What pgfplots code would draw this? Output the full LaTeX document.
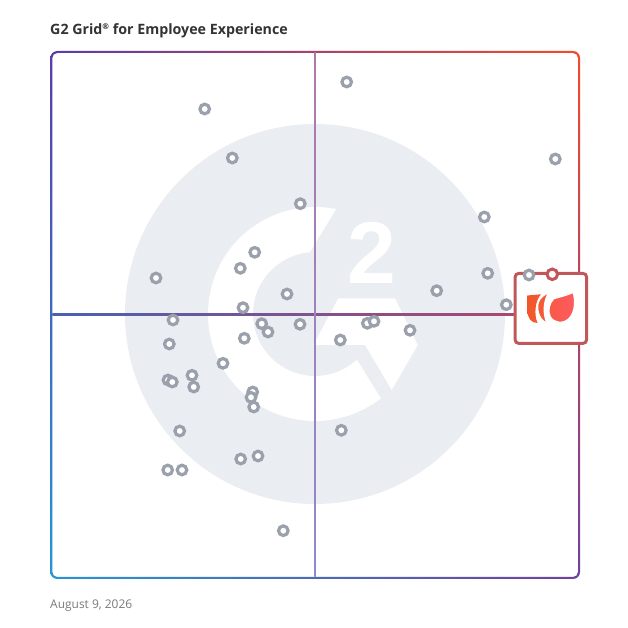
\documentclass[border=0pt]{standalone}
\usepackage{pgfplots}
\pgfplotsset{compat=1.18}
\usetikzlibrary{shadings}
\usepackage{fontspec}
\setmainfont{Open Sans}
\newfontfamily\twofont{Liberation Sans}
\definecolor{ringgray}{HTML}{9AA0AC}
\definecolor{logogray}{HTML}{EAEDF1}
\definecolor{boxred}{HTML}{C0585A}
\definecolor{titlegray}{HTML}{333333}
\definecolor{dategray}{HTML}{7A7A7A}
\definecolor{bUL}{HTML}{5A3CA8}
\definecolor{bUR}{HTML}{F54A2A}
\definecolor{bLL}{HTML}{2596D4}
\definecolor{bLR}{HTML}{7040A0}
\definecolor{hL}{HTML}{4A60B2}
\definecolor{hR}{HTML}{B84468}
\definecolor{vT}{HTML}{B07AA8}
\definecolor{vB}{HTML}{8C8ACE}
\definecolor{pA}{HTML}{F0572A}
\definecolor{pA2}{HTML}{F35A30}
\definecolor{pB}{HTML}{F45A34}
\definecolor{pB2}{HTML}{F75A3A}
\definecolor{pC}{HTML}{F85A42}
\definecolor{pC2}{HTML}{FF5A64}
\pgfplotstableread{
x y
204.7 109
346.7 82
232.3 158
555.3 159
300.3 203.7
484.3 217
254.7 252.3
240.3 268.3
156 278
487.7 273.3
529 275
436.7 290.7
287 294
243 307.7
506.3 304.7
173 320
261.7 323.7
268 332
300 324.3
367.3 323.3
374 321.3
410 330.3
169.3 344
244.3 338.3
340.3 340
223 363.3
168 380
172.3 382
192 375.3
193.7 387
252.7 392
251 397.3
253.7 407
179.7 431
341.3 430.3
240.7 459
258 456
167.7 470
182 470
283.3 530.7
}\others
\begin{document}
\begin{tikzpicture}[x=1bp,y=1bp]
\fill[white] (0,0) rectangle (628,628);
% G2 watermark
\fill[logogray] (315,314) circle[radius=190bp];
\fill[white] ([shift={(315,314)}]78.6:107bp) arc[start angle=78.6,end angle=308,radius=107bp]
  -- ([shift={(315,314)}]312.5:62bp) arc[start angle=312.5,end angle=94.8,radius=62bp] -- cycle;
\fill[white] (338.3,329.7) -- (395,329.7) -- (417.7,283) -- (391.7,238) -- (365,283) -- (313.3,283) -- cycle;
\node[white, anchor=base, inner sep=0, font=\twofont\bfseries\fontsize{88}{88}\selectfont] at (371.7,344.7) {2};
% border
\shade[even odd rule, shading=bilinear interpolation, upper left=bUL, upper right=bUR, lower left=bLL, lower right=bLR]
  [rounded corners=7bp] (50.3,49) rectangle (580,577)
  [rounded corners=5bp] (52.3,51) rectangle (578,575);
% cross lines
\shade[left color=hL, right color=hR] (52.3,312.75) rectangle (578,314.25);
\shade[top color=vT, bottom color=vB] (314.25,51) rectangle (315.75,575);
\begin{axis}[at={(0,0)}, anchor=south west, scale only axis, width=628bp, height=628bp,
  xmin=0, xmax=628, ymin=0, ymax=628, y dir=reverse, hide axis, clip=false]
\addplot[only marks, mark=*, mark size=4.8, mark options={draw=ringgray, fill=white, line width=3.2bp}] table {\others};
\draw[boxred, line width=3bp, fill=white, rounded corners=4bp] (axis cs:515,273.3) rectangle (axis cs:586.7,343.5);
% logo petals
\shade[left color=pA, right color=pA2]
  (axis cs:527.3,295.5) -- (axis cs:541,294.3)
  .. controls (axis cs:535.5,300) and (axis cs:533.5,314) .. (axis cs:537.5,323)
  .. controls (axis cs:531,323) and (axis cs:527.3,318) .. (axis cs:527.3,310) -- cycle;
\shadedraw[draw=white, line width=1.8bp, left color=pB, right color=pB2]
  (axis cs:542.5,296) -- (axis cs:550.5,290.5)
  .. controls (axis cs:544.5,298) and (axis cs:542,312) .. (axis cs:547.5,323.5)
  .. controls (axis cs:540,321.5) and (axis cs:536.5,312) .. (axis cs:537.5,304.5)
  .. controls (axis cs:538.5,300) and (axis cs:540.5,297.5) .. cycle;
\shadedraw[draw=white, line width=1.8bp, left color=pC, right color=pC2]
  (axis cs:553.5,298.5) .. controls (axis cs:560,296.5) and (axis cs:567,295) .. (axis cs:573.5,292)
  .. controls (axis cs:575.5,300) and (axis cs:576,312) .. (axis cs:569,319)
  .. controls (axis cs:563,324.5) and (axis cs:554,323.5) .. (axis cs:550,317)
  .. controls (axis cs:547,311) and (axis cs:549,303) .. cycle;
\addplot[only marks, mark=*, mark size=5.3, mark options={draw=boxred, fill=white, line width=3bp}] coordinates {(552.3,274.3)};
\end{axis}
\node[anchor=base west, inner sep=0, text=titlegray, font=\bfseries\fontsize{14.3}{14.3}\selectfont] at (50,593.7)
  {G2 Grid\raisebox{0.33em}{\fontsize{8}{8}\selectfont ®} for Employee Experience};
\node[anchor=base west, inner sep=0, text=dategray, font=\fontsize{12}{12}\selectfont] at (50,19.5) {August 9, 2026};
\end{tikzpicture}
\end{document}
